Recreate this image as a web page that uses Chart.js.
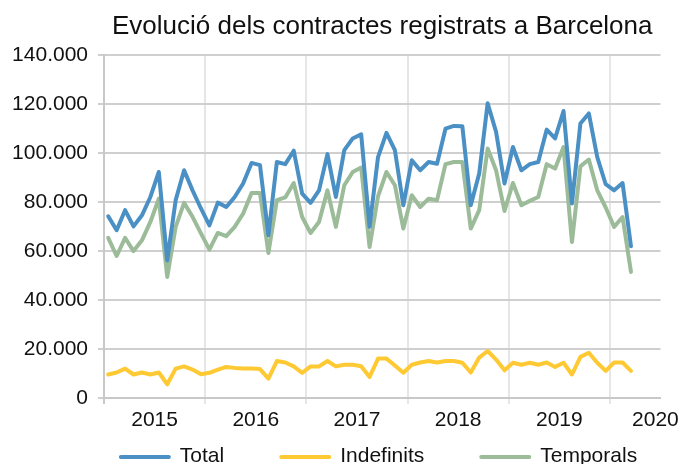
<!DOCTYPE html>
<html><head><meta charset="utf-8">
<script src="https://cdn.jsdelivr.net/npm/chart.js@4"></script>
<style>html,body{margin:0;padding:0;background:#fff}</style>
</head><body>
<canvas id="c" width="683" height="464"></canvas>
<script>
const years = ['2015','2016','2017','2018','2019','2020'];
const months = [
 '2015-01','2015-02','2015-03','2015-04','2015-05','2015-06','2015-07','2015-08','2015-09','2015-10','2015-11','2015-12',
 '2016-01','2016-02','2016-03','2016-04','2016-05','2016-06','2016-07','2016-08','2016-09','2016-10','2016-11','2016-12',
 '2017-01','2017-02','2017-03','2017-04','2017-05','2017-06','2017-07','2017-08','2017-09','2017-10','2017-11','2017-12',
 '2018-01','2018-02','2018-03','2018-04','2018-05','2018-06','2018-07','2018-08','2018-09','2018-10','2018-11','2018-12',
 '2019-01','2019-02','2019-03','2019-04','2019-05','2019-06','2019-07','2019-08','2019-09','2019-10','2019-11','2019-12',
 '2020-01','2020-02','2020-03'
];
const total = [
 74200, 68500, 76700, 70100, 74600, 82100, 92300, 56200, 80800, 93000, 84800, 77400,
 70500, 79800, 78000, 82100, 87600, 96000, 95100, 66500, 96400, 95500, 101000, 83500,
 79700, 84800, 99600, 82100, 101200, 106000, 107700, 69900, 98400, 108300, 101200, 78700,
 97100, 93000, 96400, 95700, 110000, 111100, 111000, 78700, 91700, 120400, 108700, 87600,
 102500, 93000, 95500, 96400, 109600, 106000, 117200, 79400, 112100, 116200, 98400, 87300,
 84800, 87800, 62000
];
const indefinits = [
 9600, 10400, 12000, 9600, 10400, 9600, 10400, 5600, 12000, 12900, 11600, 9700,
 10300, 11600, 12700, 12300, 12000, 12000, 11800, 7900, 15100, 14500, 12900, 10300,
 12900, 12900, 15100, 12900, 13600, 13600, 13000, 8600, 16100, 16100, 13300, 10300,
 13600, 14500, 15100, 14500, 15100, 15100, 14400, 10400, 16500, 19200, 15700, 11300,
 14400, 13600, 14400, 13600, 14500, 12700, 14400, 9600, 16800, 18500, 14400, 11100,
 14500, 14500, 11100
];
const temporals = [
 65400, 58000, 65400, 60000, 64400, 71900, 81400, 49400, 69900, 79700, 74000, 67200,
 60600, 67400, 66100, 69900, 75300, 83700, 83700, 59200, 80800, 81900, 87800, 73900,
 67400, 71900, 84800, 69900, 86900, 92300, 94100, 61700, 82400, 92300, 86900, 69200,
 82800, 78000, 81400, 80800, 95500, 96400, 96400, 69200, 76700, 101900, 93000, 76400,
 87800, 78700, 80500, 82100, 95500, 93700, 102500, 63700, 94600, 97400, 84800, 77800,
 69900, 73900, 51500
];
const seriesNames = ['Total', 'Indefinits', 'Temporals'];
const yTickValues = [0, 20000, 40000, 60000, 80000, 100000, 120000, 140000];
const titleText = 'Evolució dels contractes registrats a Barcelona';

const FONT = '"Liberation Sans", Arial, sans-serif';
Chart.defaults.font.family = FONT;
Chart.defaults.color = '#111';

const toXY = arr => arr.map((v, i) => ({x: i, y: v}));
const colors = ['#4A90C4', '#FFC933', '#9BBB99'];
const seriesData = [total, indefinits, temporals];

// x-axis ticks: year boundaries (grid) and year-label positions
const boundaries = [-0.5];
years.forEach((y, k) => { if (k > 0) boundaries.push(k * 12 - 0.5); });
const labelPos = years.map((y, k) => k < years.length - 1 ? k * 12 + 5.5 : k * 12 + 4.9);
const labelMap = new Map(labelPos.map((p, k) => [p, years[k]]));
const boundarySet = new Set(boundaries);

const legendPlugin = {
  id: 'lineLegend',
  afterDraw(chart) {
    const ctx = chart.ctx;
    ctx.save();
    ctx.font = '21px ' + FONT;
    const lineLen = 52, gap = 9, spacing = 55;
    const items = chart.data.datasets.map(d => ({
      text: d.label, color: d.borderColor,
      w: lineLen + gap + ctx.measureText(d.label).width
    }));
    const totalW = items.reduce((s, it) => s + it.w, 0) + spacing * (items.length - 1);
    let x = 378 - totalW / 2;
    const y = 456;
    items.forEach(it => {
      ctx.strokeStyle = it.color; ctx.lineWidth = 4; ctx.lineCap = 'round';
      ctx.beginPath(); ctx.moveTo(x + 2, y + 1); ctx.lineTo(x + lineLen - 2, y + 1); ctx.stroke();
      ctx.fillStyle = '#111'; ctx.textBaseline = 'middle'; ctx.textAlign = 'left';
      ctx.fillText(it.text, x + lineLen + gap, y);
      x += it.w + spacing;
    });
    ctx.restore();
  }
};

new Chart(document.getElementById('c'), {
  type: 'line',
  data: {
    datasets: seriesNames.map((n, k) => ({
      label: n,
      data: toXY(seriesData[k]),
      borderColor: colors[k],
      backgroundColor: colors[k],
      borderWidth: 4,
      pointRadius: 0,
      tension: 0,
      borderJoinStyle: 'round',
      borderCapStyle: 'round',
      fill: false
    }))
  },
  options: {
    responsive: false,
    animation: false,
    layout: {padding: {left: 0, right: 21, top: 0, bottom: 30}},
    plugins: {
      legend: {display: false},
      tooltip: {enabled: false},
      title: {
        display: true,
        text: titleText,
        fullSize: false,
        color: '#111',
        font: {size: 26, weight: 'normal', family: FONT},
        padding: {top: 11, bottom: 13}
      }
    },
    scales: {
      x: {
        type: 'linear',
        min: -0.5,
        max: 65.5,
        afterBuildTicks: s => {
          s.ticks = boundaries.concat(labelPos).sort((a, b) => a - b).map(v => ({value: v}));
        },
        afterFit: s => { s.height = 36; },
        ticks: {
          autoSkip: false,
          maxRotation: 0,
          padding: 4,
          font: {size: 21},
          color: '#111',
          callback: v => labelMap.has(v) ? labelMap.get(v) : ''
        },
        grid: {
          color: c => (c.tick && boundarySet.has(c.tick.value)) ? (c.tick.value < 0 ? '#c8c8c8' : '#e6e6e6') : 'rgba(0,0,0,0)',
          lineWidth: 2,
          tickLength: 6
        },
        border: {display: true, color: '#c8c8c8', width: 2}
      },
      y: {
        min: 0,
        max: 140000,
        afterBuildTicks: s => { s.ticks = yTickValues.map(v => ({value: v})); },
        afterFit: s => { s.width = 104; },
        ticks: {
          padding: 10,
          font: {size: 21},
          color: '#111',
          callback: v => String(v).replace(/\B(?=(\d{3})+(?!\d))/g, '.')
        },
        grid: {color: '#cfcfcf', lineWidth: 2, tickLength: 6},
        border: {display: true, color: '#c8c8c8', width: 2}
      }
    }
  },
  plugins: [legendPlugin]
});
</script>
</body></html>
